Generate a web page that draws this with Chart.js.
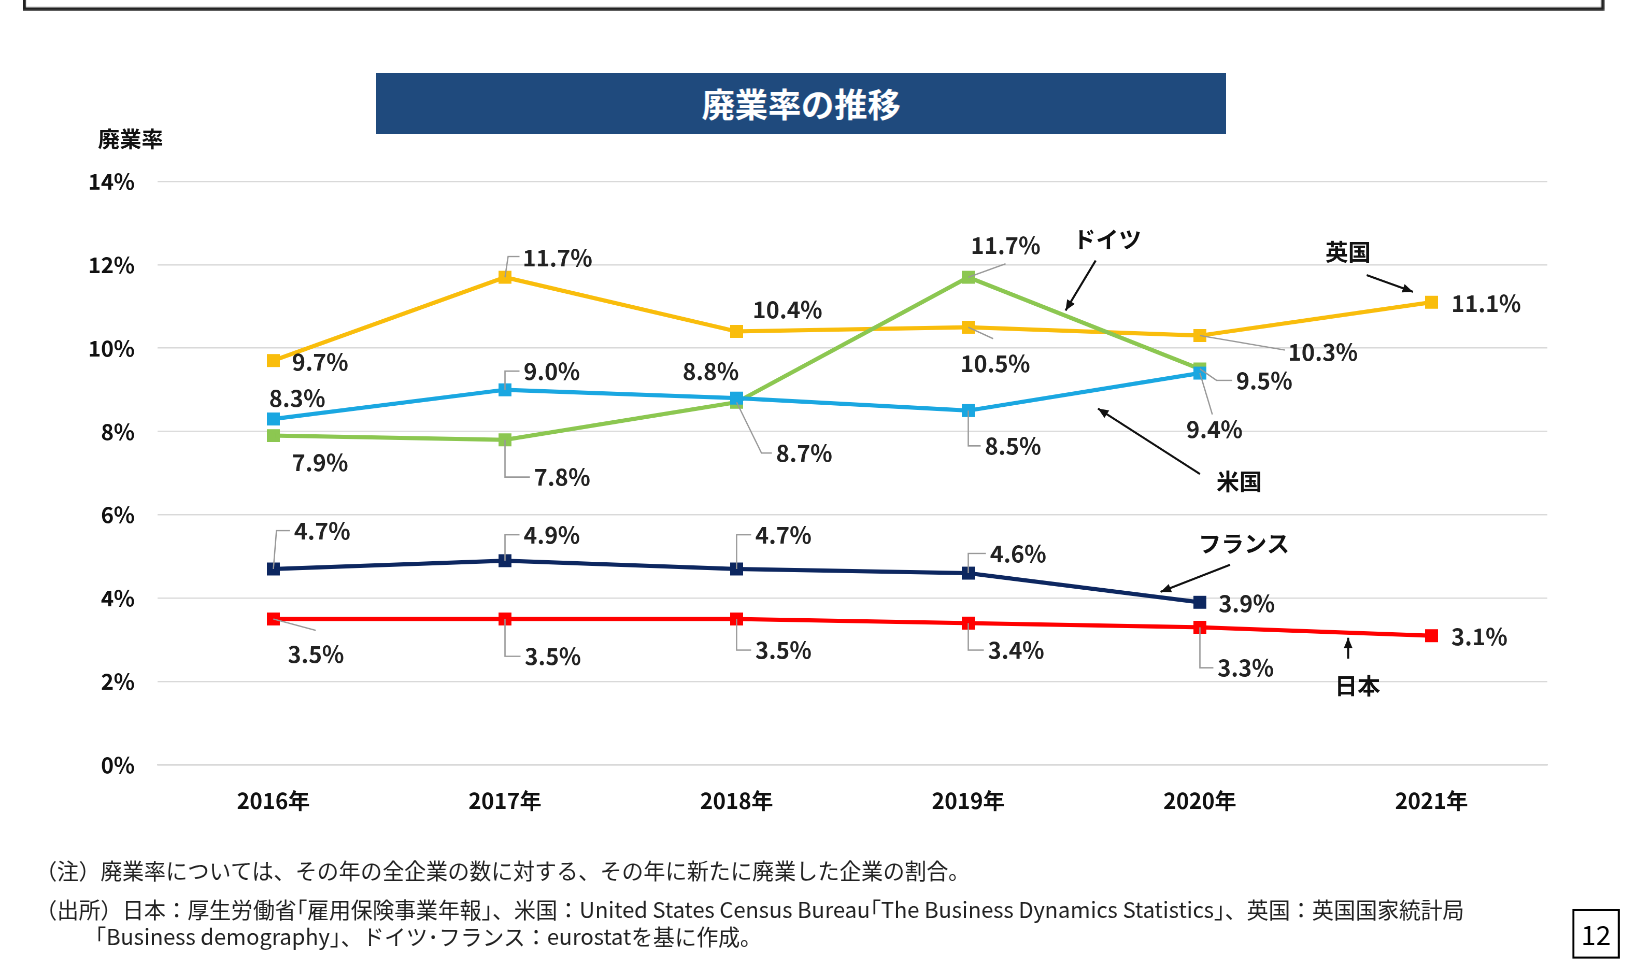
<!DOCTYPE html>
<html><head><meta charset="utf-8">
<script src="https://cdn.jsdelivr.net/npm/chart.js@4"></script>
<style>
html,body{margin:0;width:1625px;height:962px;background:#fff;overflow:hidden;}
#root{position:absolute;left:0;top:0;width:1568px;height:928px;transform:scale(1.0364);transform-origin:0 0;font-family:"Noto Sans CJK JP","Noto Sans",sans-serif;}
#frame{position:absolute;left:22px;top:-10px;width:1520px;height:14px;border:3px solid #222;}
#title{position:absolute;left:363px;top:70px;width:820px;height:58px;background:#1f4a7d;color:#fff;font-weight:bold;font-size:32px;text-align:center;line-height:58px;}
#wrap{position:absolute;left:0;top:0;width:1568px;height:928px;}
.note{position:absolute;left:34px;font-size:21px;color:#222;white-space:nowrap;}
#pg{position:absolute;left:1517px;top:877px;width:42px;height:44px;border:2px solid #000;font-size:26px;text-align:center;line-height:44px;}
</style></head><body>
<div id="root">
<div id="wrap"><canvas id="c" width="1568" height="928"></canvas></div>
<div id="frame"></div>
<div id="title">廃業率の推移</div>
<div class="note" style="top:824px">（注）廃業率については、その年の全企業の数に対する、その年に新たに廃業した企業の割合。</div>
<div class="note" style="top:862px">（出所）日本：厚生労働省｢雇用保険事業年報｣、米国：United States Census Bureau｢The Business Dynamics Statistics｣、英国：英国国家統計局</div>
<div class="note" style="top:888px;left:92px">｢Business demography｣、ドイツ･フランス：eurostatを基に作成。</div>
<div id="pg">12</div>
</div>
<script>
const categories=['2016年','2017年','2018年','2019年','2020年','2021年'];
const japan=[3.5,3.5,3.5,3.4,3.3,3.1];
const france=[4.7,4.9,4.7,4.6,3.9,null];
const usa=[8.3,9.0,8.8,8.5,9.4,null];
const germany=[7.9,7.8,8.7,11.7,9.5,null];
const uk=[9.7,11.7,10.4,10.5,10.3,11.1];
const yTicks=[0,2,4,6,8,10,12,14];

const E=(dx,dy)=>[[0,0],[0,dy],[dx-4,dy]];
const L={
 uk:[[18,1,'left',null],[17,-19,'left',[[0,0],[3,-20],[14,-20]]],[49,-21,'center',null],[26,35,'center',[[0,0],[24,11]]],[85,16,'left',[[0,0],[82,14]]],[19,1,'left',null]],
 usa:[[23,-20,'center',null],[18,-18,'left',E(18,-18)],[-25,-26,'center',null],[16,34,'left',E(16,34)],[14,54,'center',[[0,0],[12,40]]]],
 germany:[[45,26,'center',null],[28,36,'left',E(28,36)],[38,49,'left',[[0,0],[24,49],[34,49]]],[36,-31,'center',[[0,0],[36,-13]]],[35,11,'left',[[0,0],[16,11],[31,11]]]],
 france:[[20,-37,'left',[[0,0],[3,-37],[16,-37]]],[18,-25,'left',E(18,-25)],[18,-33,'left',E(18,-33)],[21,-19,'left',E(21,-19)],[18,1,'left',null]],
 japan:[[41,34,'center',[[0,0],[41,11]]],[19,36,'left',E(19,36)],[18,30,'left',E(18,30)],[19,26,'left',E(19,26)],[17,39,'left',E(17,39)],[19,1,'left',null]]
};
const names=[
 {t:'ドイツ',p:[3.6,12.6],a:[3.55,12.1],b:[3.42,10.9]},
 {t:'英国',p:[4.64,12.3],a:[4.72,11.75],b:[4.92,11.35]},
 {t:'米国',p:[4.17,6.8],a:[4.0,6.98],b:[3.56,8.55]},
 {t:'フランス',p:[4.19,5.3],a:[4.13,4.8],b:[3.83,4.15]},
 {t:'日本',p:[4.68,1.9],a:[4.64,2.55],b:[4.64,3.05]}
];
const ds=(label,data,color,key)=>({label,data,borderColor:color,backgroundColor:color,pointStyle:'rect',pointRadius:6,pointHoverRadius:6,borderWidth:4,key,spanGaps:false});
const F='"Noto Sans CJK JP","Noto Sans",sans-serif';
const plug={id:'ann',afterDatasetsDraw(ch){
 const c=ch.ctx,xs=ch.scales.x,ys=ch.scales.y;
 c.save();c.font='bold 22px '+F;c.textBaseline='middle';
 ch.data.datasets.forEach((d,i)=>{const m=ch.getDatasetMeta(i);
  d.data.forEach((v,j)=>{if(v==null)return;const pt=m.data[j],s=L[d.key][j];
   if(s[3]){c.strokeStyle='#999';c.lineWidth=1.3;c.beginPath();s[3].forEach((q,k)=>{k?c.lineTo(pt.x+q[0],pt.y+q[1]):c.moveTo(pt.x+q[0],pt.y+q[1]);});c.stroke();}
   c.fillStyle='#222';c.textAlign=s[2];c.fillText(v.toFixed(1)+'%',pt.x+s[0],pt.y+s[1]);});});
 c.fillStyle='#111';c.strokeStyle='#111';c.lineWidth=2;c.textAlign='center';
 names.forEach(n=>{c.fillText(n.t,xs.getPixelForValue(n.p[0]),ys.getPixelForValue(n.p[1]));
  const x1=xs.getPixelForValue(n.a[0]),y1=ys.getPixelForValue(n.a[1]),x2=xs.getPixelForValue(n.b[0]),y2=ys.getPixelForValue(n.b[1]);
  c.beginPath();c.moveTo(x1,y1);c.lineTo(x2,y2);c.stroke();
  const an=Math.atan2(y2-y1,x2-x1);c.beginPath();c.moveTo(x2,y2);c.lineTo(x2-11*Math.cos(an-0.4),y2-11*Math.sin(an-0.4));c.lineTo(x2-11*Math.cos(an+0.4),y2-11*Math.sin(an+0.4));c.closePath();c.fill();});
 c.textAlign='center';c.font='bold 21px '+F;c.fillText('廃業率',126,134);
 c.restore();}};
new Chart(document.getElementById('c'),{type:'line',
 data:{labels:categories,datasets:[ds('日本',japan,'#ff0000','japan'),ds('フランス',france,'#0d2760','france'),ds('米国',usa,'#1aa7e1','usa'),ds('ドイツ',germany,'#8cc751','germany'),ds('英国',uk,'#f9bd0c','uk')]},
 options:{responsive:false,animation:false,events:[],devicePixelRatio:2,
  layout:{padding:{left:40,top:175,right:75,bottom:130}},
  plugins:{legend:{display:false},tooltip:{enabled:false}},
  scales:{x:{offset:true,grid:{display:false},border:{color:'#ccc'},ticks:{color:'#111',font:{family:F,size:21,weight:'bold'},padding:14},afterFit(s){s.height=60;}},
   y:{min:0,max:14,afterBuildTicks(s){s.ticks=yTicks.map(v=>({value:v}));},grid:{color:'#d9d9d9',lineWidth:1.3,drawTicks:false},border:{display:false},
    ticks:{color:'#111',padding:22,font:{family:F,size:21,weight:'bold'},callback:v=>v+'%'},afterFit(s){s.width=112;}}}},
 plugins:[plug]});
</script></body></html>
